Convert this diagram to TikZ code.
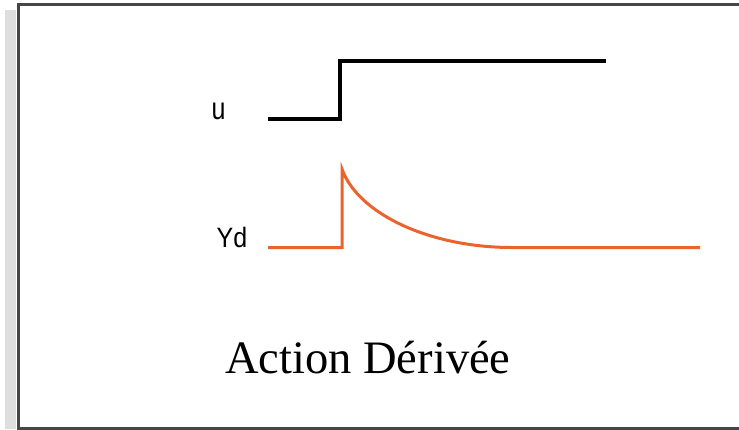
\documentclass[tikz,border=0pt]{standalone}
\usepackage{fontspec}
\setmainfont{Liberation Serif}
\newfontfamily\labelfont{Liberation Sans}
\definecolor{framegray}{RGB}{70,70,70}
\definecolor{shadowgray}{RGB}{222,222,222}
\definecolor{curveorange}{RGB}{236,98,45}
\begin{document}
\begin{tikzpicture}[x=1pt,y=-1pt,
  framestyle/.style={draw=framegray,line width=3pt},
  signal/.style={line width=3.4pt,line join=miter},
  response/.style={draw=curveorange,line width=3pt,line join=miter},
  lbl/.style={font=\labelfont\fontsize{25}{27}\selectfont,inner sep=0pt,text=black},
  title/.style={font=\fontsize{46.5}{50}\selectfont,inner sep=0pt,text=black}]
\useasboundingbox (0,0) rectangle (739,429);
% shadow
\fill[shadowgray] (5,10) rectangle (16,429);
% frame
\draw[framestyle] (18,432) -- (18,4.5) -- (745,4.5);
\draw[framestyle] (18,428) -- (745,428);
% u signal
\coordinate (u0) at (268,119);
\coordinate (u1) at (340,119);
\coordinate (u2) at (340,61);
\coordinate (u3) at (606,61);
\draw[signal] (u0) -- (u1) -- (u2) -- (u3);
\node[lbl] (ulab) at (218.5,111) {\scalebox{1}[1.25]{u}};
% Yd response
\coordinate (y0) at (268,247.5);
\coordinate (y1) at (342,247.5);
\coordinate (y2) at (342,169);
\coordinate (y3) at (512,247.5);
\coordinate (y4) at (700,247.5);
\draw[response] (y0) -- (y1) -- (y2) .. controls (358,214) and (430,247.5) .. (y3) -- (y4);
\node[lbl] (ydlab) at (232,237) {\scalebox{1}[1.12]{Yd}};
% title
\node[title,anchor=base west] (title) at (225,373) {Action Dérivée};
\end{tikzpicture}
\end{document}
